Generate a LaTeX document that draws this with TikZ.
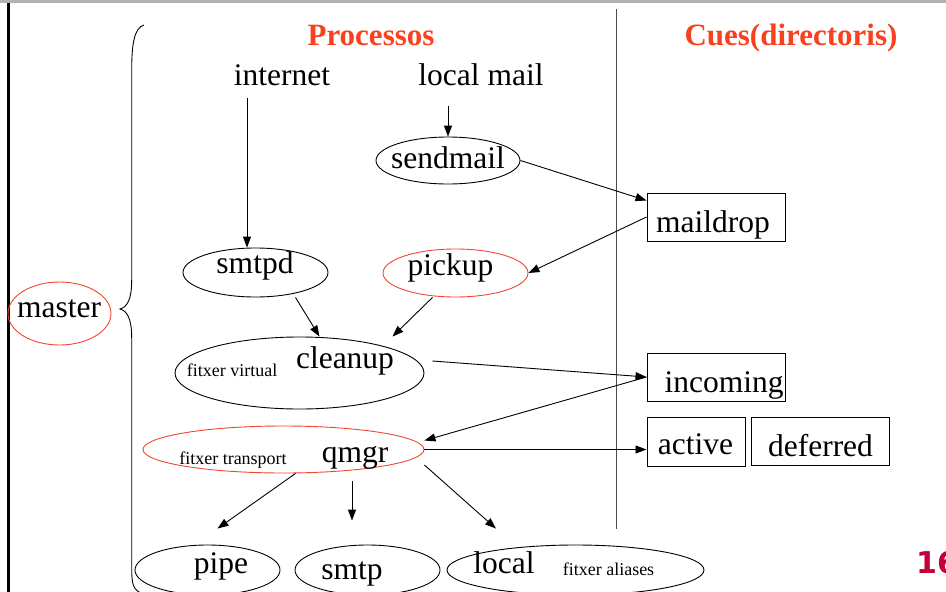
\documentclass[tikz,border=0pt]{standalone}
\usepackage{fontspec}
\setmainfont{Liberation Serif}
\newfontfamily\numfont{DejaVu Sans}
\usetikzlibrary{shapes.geometric,arrows.meta}
\definecolor{titlered}{RGB}{250,65,30}
\definecolor{linered}{RGB}{240,70,50}
\definecolor{pagenum}{RGB}{195,0,55}
\tikzset{
  proc/.style={draw, ellipse, inner sep=0pt, line width=0.9pt},
  qbox/.style={draw, rectangle, inner sep=0pt, line width=1pt},
  big/.style={font=\fontsize{31.5}{36}\selectfont, inner sep=0pt, anchor=base},
  small/.style={font=\fontsize{18}{20}\selectfont, inner sep=0pt, anchor=base},
  head/.style={font=\fontsize{31}{36}\selectfont\bfseries, text=titlered, inner sep=0pt, anchor=base},
  arr/.style={-{Triangle[length=11pt,width=8pt]}, line width=0.9pt},
}
\begin{document}
\begin{tikzpicture}[x=1pt,y=-1pt]
\useasboundingbox (0,0) rectangle (946,592);

% Marc
\draw[gray!60, line width=3pt] (0,1) -- (946,1);
\draw[line width=2.5pt] (8.7,3) -- (8.7,592);

% Capcaleres
\node[head] (processos) at (371,45) {Processos};
\node[head] (cues) at (791,45) {Cues(directoris)};
\draw[black!70, line width=1pt] (616,9) -- (616,529);

% master
\node[proc, draw=linered, minimum width=103pt, minimum height=63pt] (master) at (59.5,313.5) {};
\node[big] (tmaster) at (59,317) {master};
\draw[line width=0.9pt] (144,25) .. controls (134,28) and (131.7,45) .. (131.7,70) -- (131.7,280)
  .. controls (131.7,300) and (127,307) .. (120,309) .. controls (127,311) and (131.7,318) .. (131.7,338)
  -- (131.7,570) .. controls (131.7,585) and (134,590) .. (141,593);

% Processos
\node[big] (internet) at (282,85) {internet};
\node[big] (localmail) at (481,85) {local mail};

\node[proc, minimum width=144pt, minimum height=47pt] (sendmail) at (448,160.5) {};
\node[big] at (448,168) {sendmail};

\node[proc, minimum width=145pt, minimum height=49pt] (smtpd) at (255.5,272.5) {};
\node[big] at (255,273) {smtpd};
\node[proc, draw=linered, minimum width=145pt, minimum height=48pt] (pickup) at (455.5,273) {};
\node[big] at (450.5,275) {pickup};

\node[proc, minimum width=249pt, minimum height=72pt] (cleanup) at (299.5,373) {};
\node[small] at (232,376) {fitxer virtual};
\node[big] at (345,368) {cleanup};

\node[proc, draw=linered, minimum width=281pt, minimum height=47pt] (qmgr) at (283.5,449.5) {};
\node[small] at (233,464) {fitxer transport};
\node[big] at (355,462) {qmgr};

\node[proc, minimum width=145pt, minimum height=50pt] (pipe) at (207.5,570) {};
\node[big] at (221,573) {pipe};
\node[proc, minimum width=145pt, minimum height=50pt] (smtp) at (367.5,570) {};
\node[big] at (352,579) {smtp};
\node[proc, minimum width=257pt, minimum height=50pt] (local) at (575.5,570) {};
\node[big] at (504,573) {local};
\node[small] at (608.5,575) {fitxer aliases};

% Cues
\node[qbox, minimum width=138pt, minimum height=48pt] (maildrop) at (716,217) {};
\node[big] at (713,232) {maildrop};
\node[qbox, minimum width=138pt, minimum height=48pt] (incoming) at (716,377) {};
\node[big] at (724,392) {incoming};
\node[qbox, minimum width=98pt, minimum height=49pt] (active) at (696,441.5) {};
\node[big] at (695.5,454) {active};
\node[qbox, minimum width=138pt, minimum height=48pt] (deferred) at (820,441) {};
\node[big] at (820.5,456) {deferred};

\node[font=\numfont\bfseries\fontsize{30}{34}\selectfont, text=pagenum, anchor=base west, inner sep=0pt] (pagina) at (916,573) {16};

% Fletxes
\draw[arr] ([shift={(-35pt,-12pt)}]internet.south) -- ([xshift=-8.5pt]smtpd.north);
\draw[arr] ([shift={(-33pt,-20pt)}]localmail.south) -- (sendmail.north);
\draw[arr] (sendmail.east) -- ([yshift=-8pt]maildrop.north west);
\draw[arr] (maildrop.west) -- (pickup.east);
\draw[arr] ([xshift=40pt]smtpd.south) -- ([xshift=20pt]cleanup.north);
\draw[arr] ([xshift=-23pt]pickup.south) -- ([xshift=93pt]cleanup.north);
\draw[arr] ([shift={(8pt,12pt)}]cleanup.east) -- (incoming.west);
\draw[arr] (incoming.west) -- ([yshift=9pt]qmgr.east);
\draw[arr] (qmgr.east) -- (qmgr.east -| active.west);
\draw[arr] ([xshift=12pt]qmgr.south) -- ([shift={(10pt,16pt)}]pipe.north);
\draw[arr] ([shift={(68.5pt,-8pt)}]qmgr.south) -- ([shift={(-15.5pt,24pt)}]smtp.north);
\draw[arr] ([yshift=-15.5pt]qmgr.east) -- ([shift={(-79.5pt,16pt)}]local.north);

\end{tikzpicture}
\end{document}
